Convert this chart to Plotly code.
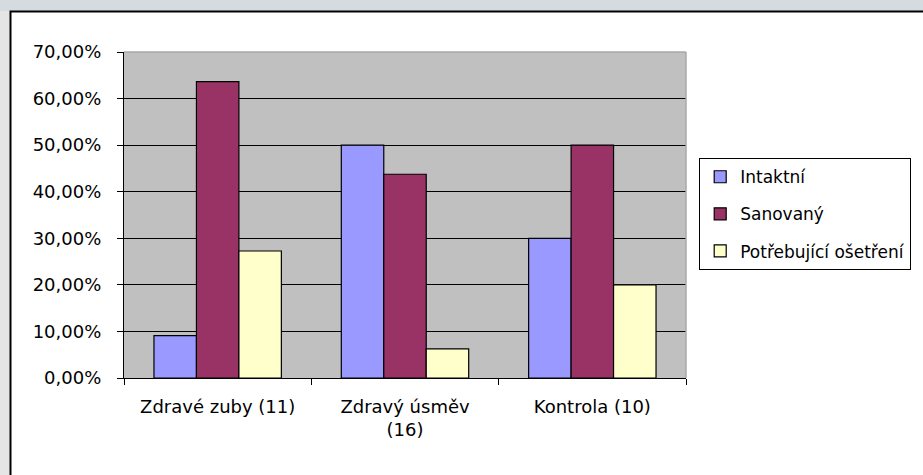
import plotly.graph_objects as go

categories = ["Zdravé zuby (11)", "Zdravý úsměv<br>(16)", "Kontrola (10)"]
series_names = ["Intaktní", "Sanovaný", "Potřebující ošetření"]
intaktni = [1/11, 0.50, 0.30]
sanovany = [7/11, 0.4375, 0.50]
potrebujici = [3/11, 0.0625, 0.20]
series_colors = ["#9999FF", "#993366", "#FFFFCC"]
y_tickvals = [0, 0.1, 0.2, 0.3, 0.4, 0.5, 0.6, 0.7]
y_ticktext = ["0,00%", "10,00%", "20,00%", "30,00%", "40,00%", "50,00%", "60,00%", "70,00%"]

FONT = "DejaVu Sans"
FS = 18

fig = go.Figure()
for i, (name, vals, col) in enumerate(zip(series_names, [intaktni, sanovany, potrebujici], series_colors)):
    fig.add_trace(go.Bar(
        x=categories, y=vals, name=name, legendgroup=f"g{i}",
        marker=dict(color=col, line=dict(color="black", width=1.2)),
    ))

W, H = 923, 475
L, R, T, B = 124, 686, 52, 378
pw, ph = R - L, B - T

def px(x):
    return (x - L) / pw

def py(y):
    return (B - y) / ph

shapes = [
    dict(type="rect", xref="paper", yref="paper", x0=px(-5), x1=px(11), y0=py(480), y1=py(-5),
         fillcolor="#E5E5E5", line=dict(width=0), layer="below"),
    dict(type="rect", xref="paper", yref="paper", x0=px(-5), x1=px(930), y0=py(11), y1=py(-5),
         fillcolor="#D5DBDE", line=dict(width=0), layer="below"),
    dict(type="rect", xref="paper", yref="paper", x0=px(10.5), x1=px(940), y0=py(490), y1=py(11.5),
         fillcolor="white", line=dict(color="black", width=2), layer="below"),
    dict(type="rect", xref="paper", yref="paper", x0=0, x1=1, y0=0, y1=1,
         fillcolor="#C0C0C0", line=dict(width=0), layer="below"),
    dict(type="line", xref="paper", yref="paper", x0=0, x1=1, y0=1, y1=1,
         line=dict(color="#A8A8A8", width=1.5), layer="above"),
    dict(type="line", xref="paper", yref="paper", x0=1, x1=1, y0=0, y1=1,
         line=dict(color="#A8A8A8", width=1.5), layer="above"),
]

fig.update_layout(
    width=W, height=H,
    margin=dict(l=L, r=W - R, t=T, b=H - B, pad=0, autoexpand=False),
    paper_bgcolor="white",
    plot_bgcolor="#C0C0C0",
    barmode="group",
    bargap=0.32,
    bargroupgap=0,
    font=dict(family=FONT, size=FS, color="black"),
    shapes=shapes,
    showlegend=True,
    legend=dict(
        x=px(699), y=py(158), xanchor="left", yanchor="top",
        bgcolor="white", bordercolor="black", borderwidth=1.2,
        font=dict(family=FONT, size=17, color="black"),
        traceorder="grouped", tracegroupgap=12,
    ),
    xaxis=dict(
        showline=True, linecolor="black", linewidth=1.2,
        ticks="outside", tickson="boundaries", ticklen=6, tickcolor="black", tickwidth=1.2,
        tickfont=dict(family=FONT, size=FS, color="black"),
        ticklabelstandoff=12,
        showgrid=False, zeroline=False, fixedrange=True,
    ),
    yaxis=dict(
        range=[0, 0.7],
        tickvals=y_tickvals, ticktext=y_ticktext,
        showline=True, linecolor="black", linewidth=1.2,
        ticks="outside", ticklen=6, tickcolor="black", tickwidth=1.2,
        tickfont=dict(family=FONT, size=FS, color="black"),
        ticklabelstandoff=12,
        showgrid=True, gridcolor="black", gridwidth=1.2,
        zeroline=False, fixedrange=True,
    ),
)

fig.write_html("out.html", config={"displayModeBar": False},
               post_script="document.body.style.margin='0';")
